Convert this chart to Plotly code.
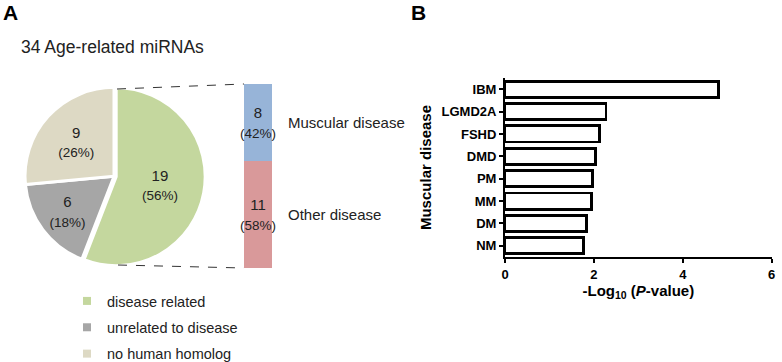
import plotly.graph_objects as go

# ---- data ----
pie_labels = ["disease related", "unrelated to disease", "no human homolog"]
pie_values = [19, 6, 9]
pie_colors = ["#c4d79e", "#a6a6a6", "#ddd9c4"]

stack_labels = ["Muscular disease", "Other disease"]
stack_values = [8, 11]
stack_colors = ["#97b4d8", "#d9999a"]

diseases = ["IBM", "LGMD2A", "FSHD", "DMD", "PM", "MM", "DM", "NM"]
neglogp = [4.80, 2.27, 2.12, 2.04, 1.97, 1.94, 1.84, 1.76]
xticks = [0, 2, 4, 6]

W, H = 782, 362
FONT = "Arial, Liberation Sans, sans-serif"

def px(x):
    return x / W

def py(y):
    return 1 - y / H

fig = go.Figure()

# pie
pull = 0.025
fig.add_trace(go.Pie(
    labels=pie_labels, values=pie_values, sort=False, direction="clockwise",
    rotation=0, marker=dict(colors=pie_colors, line=dict(color="white", width=3)),
    pull=[pull, 0, 0],
    texttemplate="%{value}<br><span style='font-size:13.5px'>(%{percent:.0%})</span>",
    textposition="inside", insidetextorientation="horizontal",
    textfont=dict(family=FONT, size=15, color="#222"),
    domain=dict(x=[px(22.8), px(205.2)], y=[py(267.5), py(85.1)]),
    showlegend=False, hoverinfo="label+value",
))

# stacked bar of disease-related miRNAs (bottom segment first so Muscular sits on top)
total = sum(stack_values)
for lab, val, col in list(zip(stack_labels, stack_values, stack_colors))[::-1]:
    fig.add_trace(go.Bar(
        x=["disease related"], y=[val], name=lab, width=1,
        marker=dict(color=col, line=dict(width=0)),
        text=[f"{val}<br><span style='font-size:13.5px'>({round(100*val/total)}%)</span>"],
        textposition="inside", insidetextanchor="middle", constraintext="none",
        cliponaxis=False,
        textfont=dict(family=FONT, size=15, color="#222"),
        xaxis="x3", yaxis="y3", showlegend=False,
    ))

# legend entries for pie (dummy traces)
for i, (lab, col) in enumerate(zip(pie_labels, pie_colors)):
    fig.add_trace(go.Scatter(
        x=[None], y=[None], mode="markers", name=lab, legendgroup=f"g{i}",
        marker=dict(symbol="square", size=8, color=col),
        xaxis="x3", yaxis="y3", showlegend=True,
    ))

# panel B bars
fig.add_trace(go.Bar(
    x=neglogp, y=diseases, orientation="h", width=0.72,
    marker=dict(color="white", line=dict(color="black", width=2.8)),
    xaxis="x2", yaxis="y2", showlegend=False,
))

# labels beside stack
stack_cum = 0
for lab, val in zip(stack_labels, stack_values):
    fig.add_annotation(x=px(286), xref="paper", xanchor="left",
                       y=total - stack_cum - val / 2, yref="y3", yanchor="middle",
                       text=lab, showarrow=False,
                       font=dict(family=FONT, size=15, color="#222"))
    stack_cum += val

fig.add_annotation(x=px(19), y=py(47), xref="paper", yref="paper", xanchor="left", yanchor="middle",
                   text="34 Age-related miRNAs", showarrow=False,
                   font=dict(family=FONT, size=17.5, color="#222"))
fig.add_annotation(x=px(1), y=py(12), xref="paper", yref="paper", xanchor="left", yanchor="middle",
                   text="<b>A</b>", showarrow=False, font=dict(family=FONT, size=21, color="black"))
fig.add_annotation(x=px(409), y=py(12), xref="paper", yref="paper", xanchor="left", yanchor="middle",
                   text="<b>B</b>", showarrow=False, font=dict(family=FONT, size=21, color="black"))

# dashed connectors
fig.add_shape(type="line", xref="paper", yref="paper", x0=px(117), y0=py(89), x1=px(244), y1=py(84),
              line=dict(color="#333", width=1, dash="dash"))
fig.add_shape(type="line", xref="paper", yref="paper", x0=px(118), y0=py(265), x1=px(244), y1=py(268),
              line=dict(color="#333", width=1, dash="dash"))

fig.update_layout(
    width=W, height=H, margin=dict(l=0, r=0, t=0, b=0, autoexpand=False),
    paper_bgcolor="white", plot_bgcolor="white", barmode="stack",
    font=dict(family=FONT, color="black"),
    xaxis3=dict(domain=[px(244), px(272)], range=[-0.5, 0.5], visible=False, fixedrange=True),
    yaxis3=dict(domain=[py(268), py(84)], range=[0, total], visible=False, fixedrange=True),
    xaxis2=dict(domain=[px(505), px(771.7)], range=[0, 6], tickvals=xticks,
                showline=True, linecolor="black", linewidth=2, ticks="outside", ticklen=4,
                tickwidth=2, tickcolor="black", showgrid=False, zeroline=False,
                tickfont=dict(family=FONT, size=13, color="black", weight="bold"),
                title=dict(text="<b>-Log<sub>10</sub> (<i>P</i>-value)</b>", standoff=2,
                           font=dict(family=FONT, size=15, color="black")),
                anchor="y2"),
    yaxis2=dict(domain=[py(257), py(78)], categoryorder="array", categoryarray=diseases,
                range=[7.5, -0.5], showline=True, linecolor="black", linewidth=2,
                ticks="outside", ticklen=4, tickwidth=2, tickcolor="black", showgrid=False,
                tickfont=dict(family=FONT, size=13, color="black", weight="bold"),
                title=dict(text="<b>Muscular disease</b>", standoff=6,
                           font=dict(family=FONT, size=15, color="black")),
                anchor="x2"),
    legend=dict(x=px(67), y=py(285), xanchor="left", yanchor="top", traceorder="grouped",
                tracegroupgap=4.5, font=dict(family=FONT, size=14.5, color="#222"),
                bgcolor="rgba(0,0,0,0)", borderwidth=0),
)

fig.write_html("out.html", config={"displayModeBar": False},
               post_script="document.body.style.margin='0';")
